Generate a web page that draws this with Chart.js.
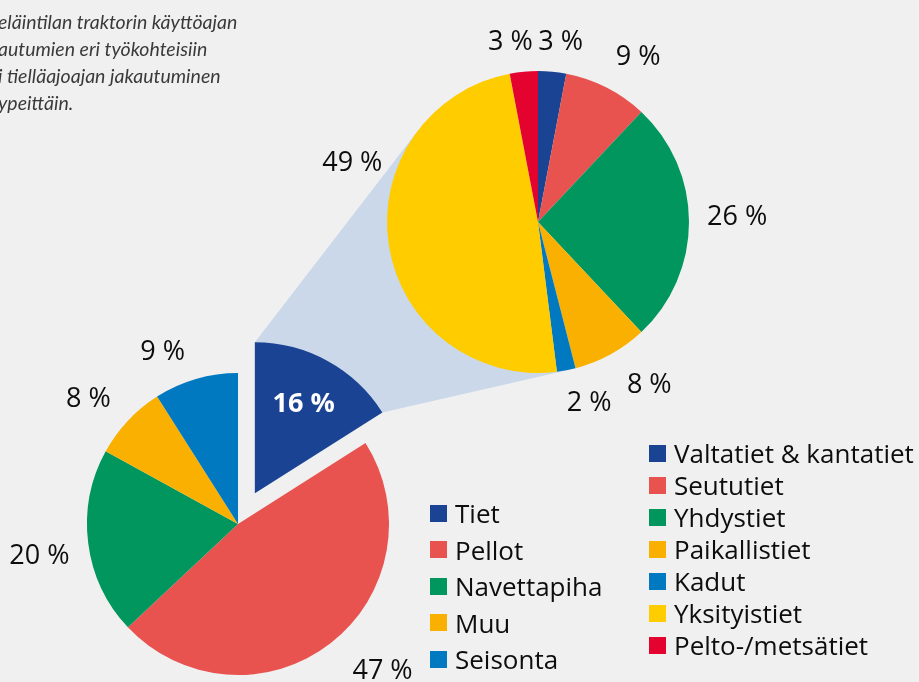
<!DOCTYPE html>
<html>
<head>
<meta charset="utf-8">
<script src="https://cdn.jsdelivr.net/npm/chart.js@4.4.0/dist/chart.umd.min.js"></script>
<style>
  html, body { margin:0; padding:0; background:#f0f0f0; }
  #wrap { position:relative; width:919px; height:682px; overflow:hidden; background:#f0f0f0; font-family:"Open Sans", sans-serif; color:#111; }
  #wrap canvas { position:absolute; left:0; top:0; }
  .caption { position:absolute; left:0; top:8px; font:italic 19.5px Lato, sans-serif; color:#3a3a3a; line-height:27px; white-space:nowrap; }
  .caption div { position:relative; }
  .legend { position:absolute; font-size:26px; white-space:nowrap; color:#0d0d0d; }
  .legend .row { display:flex; align-items:center; }
  .legend .box { width:17px; height:17px; margin-right:8px; flex:none; }
</style>
</head>
<body>
<div id="wrap">
  <canvas id="bigPie" width="919" height="682"></canvas>
  <canvas id="smallPie" width="919" height="682"></canvas>
  <div class="caption" id="caption"></div>
  <div class="legend" id="legSmall" style="left:430px; top:495px;"></div>
  <div class="legend" id="legBig" style="left:649px; top:437px;"></div>
</div>
<script>
  // data - tractor working time by target (left) and road driving by road type (right)
  const workLabels = ['Tiet', 'Pellot', 'Navettapiha', 'Muu', 'Seisonta'];
  const workValues = [16, 47, 20, 8, 9];
  const roadLabels = ['Valtatiet & kantatiet', 'Seututiet', 'Yhdystiet', 'Paikallistiet', 'Kadut', 'Yksityistiet', 'Pelto-/metsätiet'];
  const roadValues = [3, 9, 26, 8, 2, 49, 3];

  const workColors = ['#1a4393', '#e8524f', '#00965e', '#f9b000', '#0079c1'];
  const roadColors = ['#1a4393', '#e8524f', '#00965e', '#f9b000', '#0079c1', '#ffcc00', '#e4032e'];

  const captionLines = [
    ['Kuva 2. Tyypillisen kot', 'eläintilan traktorin käyttöajan'],
    ['jak', 'autumien eri työkohteisiin'],
    ['sekä lisäks', 'i tielläajoajan jakautuminen'],
    ['tiety', 'ypeittäin.']
  ];

  const W = 919, H = 682;
  const SMALL = { cx:238, cy:524, r:151, explode:35 };
  const BIG   = { cx:538, cy:222, r:151 };

  // caption, clipped on the left like the source
  const cap = document.getElementById('caption');
  captionLines.forEach(([hid, vis]) => {
    const d = document.createElement('div');
    const h = document.createElement('span'); h.textContent = hid;
    const v = document.createElement('span'); v.textContent = vis;
    d.append(h, v); cap.appendChild(d);
    d.style.left = (-h.getBoundingClientRect().width - 2) + 'px';
  });

  function buildLegend(el, labels, colors, rowH){
    labels.forEach((l, i) => {
      const r = document.createElement('div'); r.className = 'row'; r.style.height = rowH + 'px';
      r.innerHTML = '<span class="box" style="background:' + colors[i] + '"></span><span>' + l + '</span>';
      el.appendChild(r);
    });
  }
  buildLegend(document.getElementById('legSmall'), workLabels, workColors, 36.5);
  buildLegend(document.getElementById('legBig'), roadLabels, roadColors, 32);

  // draws exploded slices by shifting them along their mid angle
  const explodePlugin = {
    id: 'explode',
    beforeDatasetDraw(chart, args) {
      const ds = chart.data.datasets[args.index];
      if (!ds.explode) return;
      const ctx = chart.ctx;
      args.meta.data.forEach((arc, i) => {
        const ex = ds.explode[i] || 0;
        const mid = (arc.startAngle + arc.endAngle) / 2;
        ctx.save();
        ctx.translate(Math.cos(mid) * ex, Math.sin(mid) * ex);
        arc.draw(ctx);
        ctx.restore();
      });
      return false;
    }
  };

  // percentage labels outside (or inside) the slices
  const sliceLabels = {
    id: 'sliceLabels',
    afterDatasetsDraw(chart, args, opts) {
      const ds = chart.data.datasets[0];
      const meta = chart.getDatasetMeta(0);
      const ctx = chart.ctx;
      ctx.save();
      ctx.textAlign = 'center';
      ctx.textBaseline = 'middle';
      meta.data.forEach((arc, i) => {
        const txt = ds.data[i] + ' %';
        const mid = (arc.startAngle + arc.endAngle) / 2;
        const c = Math.cos(mid), s = Math.sin(mid);
        const ex = (ds.explode && ds.explode[i]) || 0;
        const x0 = arc.x + c * ex, y0 = arc.y + s * ex;
        const nud = (opts.nudge && opts.nudge[i]) || [0, 0];
        let x, y;
        if (opts.inside && opts.inside.includes(i)) {
          ctx.font = 'bold ' + opts.size + 'px "Open Sans"';
          ctx.fillStyle = '#fff';
          x = x0 + c * arc.outerRadius * 0.67;
          y = y0 + s * arc.outerRadius * 0.67;
        } else {
          ctx.font = opts.size + 'px "Open Sans"';
          ctx.fillStyle = '#0d0d0d';
          const w = ctx.measureText(txt).width, h = opts.size * 0.72;
          const rr = arc.outerRadius + opts.gap;
          x = x0 + c * rr + c * w / 2;
          y = y0 + s * rr + s * h / 2;
        }
        ctx.fillText(txt, x + nud[0], y + nud[1]);
      });
      ctx.restore();
    }
  };

  const baseOpts = (pad, r) => ({
    responsive: false,
    animation: false,
    events: [],
    radius: r,
    layout: { padding: pad },
    plugins: { legend: { display: false }, tooltip: { enabled: false } }
  });

  const smallOpts = baseOpts({ left:0, right: W - 2 * SMALL.cx, top: 2 * SMALL.cy - H, bottom:0 }, SMALL.r);
  smallOpts.plugins.sliceLabels = { size:27, gap:14, inside:[0], nudge:{ 1:[25,9], 2:[-5,10], 3:[-13,-5], 4:[-23,-4] } };

  const smallChart = new Chart(document.getElementById('smallPie'), {
    type: 'pie',
    data: {
      labels: workLabels,
      datasets: [{ data: workValues, backgroundColor: workColors, borderWidth: 0, clip: false,
                   explode: workValues.map((v, i) => i === 0 ? SMALL.explode : 0) }]
    },
    options: smallOpts,
    plugins: [explodePlugin, sliceLabels]
  });

  // light blue band joining the exploded slice to the big pie (tangent lines)
  const connector = {
    id: 'connector',
    beforeDatasetsDraw(chart) {
      const sArc = smallChart.getDatasetMeta(0).data[0];
      const sDs = smallChart.data.datasets[0];
      const mid = (sArc.startAngle + sArc.endAngle) / 2;
      const ex = sDs.explode[0];
      const ox = sArc.x + Math.cos(mid) * ex, oy = sArc.y + Math.sin(mid) * ex;
      const R = sArc.outerRadius;
      const A = [ox + R * Math.cos(sArc.startAngle), oy + R * Math.sin(sArc.startAngle)];
      const B = [ox + R * Math.cos(sArc.endAngle), oy + R * Math.sin(sArc.endAngle)];
      const big = chart.getDatasetMeta(0).data[0];
      const cx = big.x, cy = big.y, r = big.outerRadius;
      const tangent = (P, sign) => {
        const dx = P[0] - cx, dy = P[1] - cy, d = Math.hypot(dx, dy);
        const t = Math.atan2(dy, dx) + sign * Math.acos(r / d);
        return [cx + r * Math.cos(t), cy + r * Math.sin(t)];
      };
      const T1 = tangent(A, 1), T2 = tangent(B, -1);
      const ctx = chart.ctx;
      ctx.save();
      ctx.fillStyle = '#cad8ea';
      ctx.beginPath();
      ctx.moveTo(A[0], A[1]);
      ctx.lineTo(T1[0], T1[1]);
      ctx.lineTo(cx, cy);
      ctx.lineTo(T2[0], T2[1]);
      ctx.lineTo(B[0], B[1]);
      ctx.lineTo(ox, oy);
      ctx.closePath();
      ctx.fill();
      ctx.restore();
    }
  };

  const bigOpts = baseOpts({ left: 2 * BIG.cx - W, right:0, top:0, bottom: H - 2 * BIG.cy }, BIG.r);
  bigOpts.plugins.sliceLabels = { size:27, gap:14, nudge:{ 0:[5,-6], 1:[15,-9], 2:[4,-5], 3:[21,10], 4:[16,10], 5:[7,-86], 6:[-10,-6] } };

  new Chart(document.getElementById('bigPie'), {
    type: 'pie',
    data: {
      labels: roadLabels,
      datasets: [{ data: roadValues, backgroundColor: roadColors, borderWidth: 0, clip: false }]
    },
    options: bigOpts,
    plugins: [connector, sliceLabels]
  });
</script>
</body>
</html>
